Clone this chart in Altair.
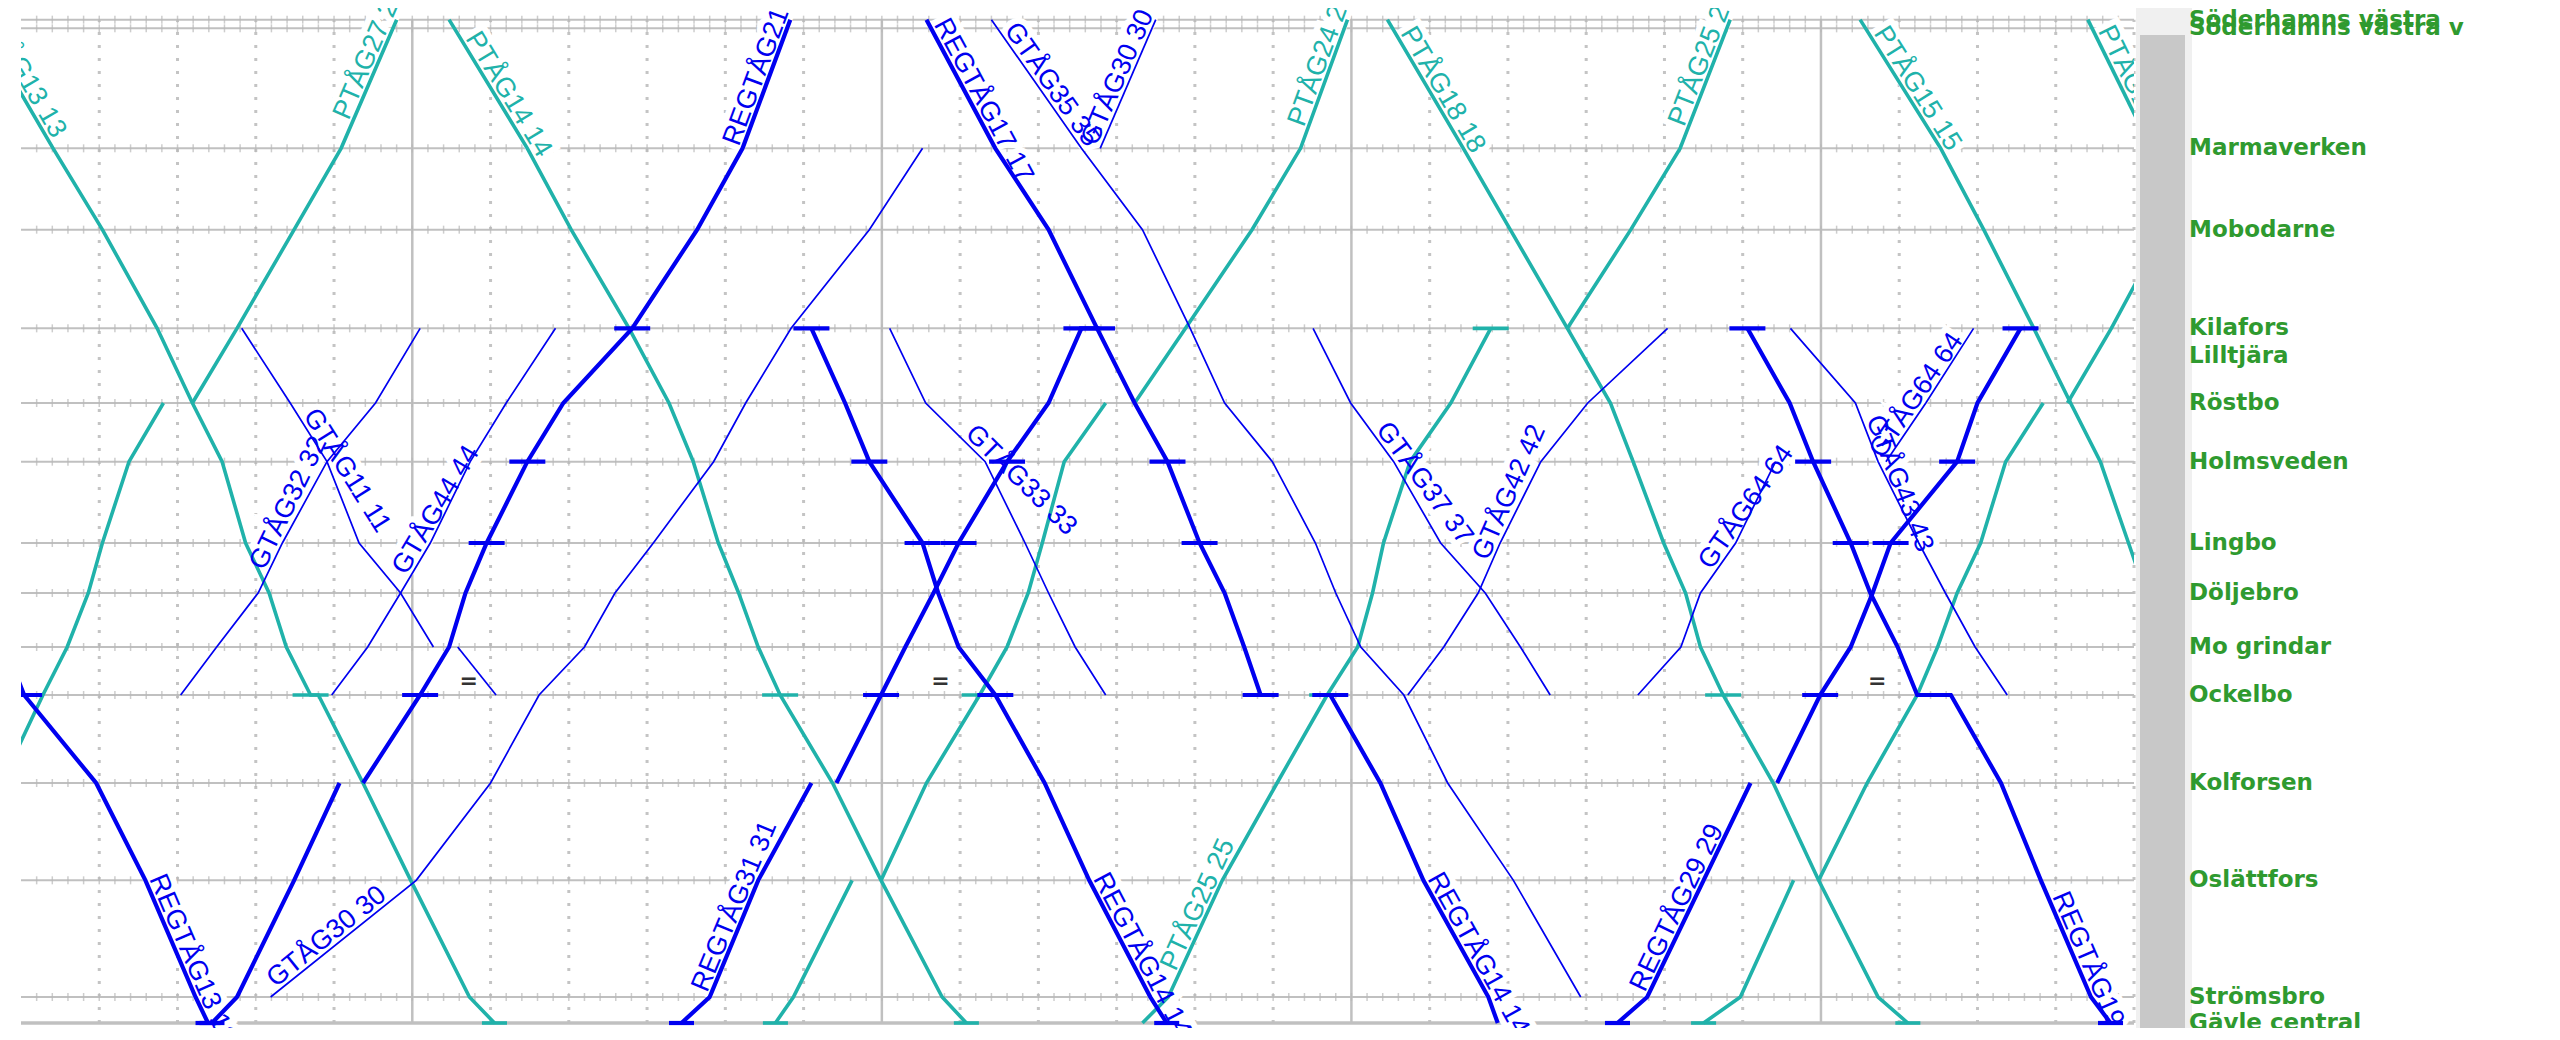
import math
import altair as alt
import pandas as pd

# ---------------- data ----------------
station_names = ["Söderhamns västra", "Söderhamns västra v", "Marmaverken", "Mobodarne", "Kilafors",
                 "Lilltjära", "Röstbo", "Holmsveden", "Lingbo", "Döljebro", "Mo grindar", "Ockelbo",
                 "Kolforsen", "Oslättfors", "Strömsbro", "Gävle central"]
station_codes = ["Sö", "Sv", "Ma", "Mb", "Ki", "Lt", "Rö", "Ho", "Li", "Dö", "Mo", "Oc", "Ko", "Os", "St", "Gä"]
station_km = [75.25, 74.6, 65.6, 59.5, 52.1, 50.0, 46.5, 42.1, 36.0, 32.25, 28.2, 24.6, 18.0, 10.7, 1.95, 0.0]
label_only = ["Lt"]

# time in minutes (hour lines at 60,120,180,240)
hour_marks = [60, 120, 180, 240]
t_start, t_end = 10, 280

trains = [
    ("PTÅG13", "P", [[("Sö", 4.5), ("Ma", 14.1), ("Mb", 20.4), ("Ki", 27.4), ("Rö", 31.9), ("Ho", 35.7), ("Li", 38.7),
                      ("Dö", 41.7), ("Mo", 43.9), ("Oc", 47.0), ("Oc", 48.0), ("Ko", 53.7), ("Os", 59.8), ("St", 67.3), ("Gä", 70.5)]]),
    ("PTÅG27", "P", [[("Ko", 7.5), ("Oc", 12.8), ("Mo", 15.9), ("Dö", 18.6), ("Li", 20.4), ("Ho", 23.8), ("Rö", 28.2)],
                     [("Rö", 31.9), ("Ki", 37.6), ("Mb", 44.9), ("Ma", 50.9), ("Sö", 58.0)]]),
    ("PTÅG14", "P", [[("Sö", 64.7), ("Ma", 74.7), ("Mb", 80.3), ("Ki", 87.7), ("Rö", 92.8), ("Ho", 95.9), ("Li", 99.1),
                      ("Dö", 101.7), ("Mo", 104.2), ("Oc", 107.0), ("Ko", 113.7), ("Os", 119.9), ("St", 127.7), ("Gä", 130.8)]]),
    ("PTÅG24", "P", [[("Gä", 106.4), ("St", 108.7), ("Os", 116.2)],
                     [("Os", 119.9), ("Ko", 125.7), ("Oc", 132.5), ("Mo", 136.0), ("Dö", 138.7), ("Li", 140.5), ("Ho", 143.3), ("Rö", 148.6)],
                     [("Rö", 152.3), ("Ki", 158.8), ("Mb", 167.3), ("Ma", 173.5), ("Sö", 179.5)]]),
    ("PTÅG25", "P", [[("Gä", 153.3), ("St", 156.6), ("Os", 163.5), ("Ko", 170.5), ("Oc", 176.9), ("Mo", 180.8), ("Dö", 182.7),
                      ("Li", 184.1), ("Ho", 187.5), ("Rö", 192.7), ("Ki", 197.8)],
                     [("Ki", 207.6), ("Mb", 215.7), ("Ma", 222.0), ("Sö", 228.4)]]),
    ("PTÅG18", "P", [[("Sö", 184.6), ("Ma", 194.3), ("Mb", 200.3), ("Ki", 207.6), ("Rö", 213.1), ("Ho", 216.0), ("Li", 219.9),
                      ("Dö", 222.7), ("Mo", 224.6), ("Oc", 227.5), ("Ko", 233.9), ("Os", 239.7), ("St", 247.3), ("Gä", 251.1)]]),
    ("PTÅG26", "P", [[("Gä", 225.0), ("St", 229.7), ("Os", 236.5)],
                     [("Os", 239.7), ("Ko", 245.9), ("Oc", 252.3), ("Mo", 254.9), ("Dö", 257.4), ("Li", 260.4), ("Ho", 263.6), ("Rö", 268.4)],
                     [("Rö", 271.5), ("Ki", 277.1), ("Mb", 283.9)]]),
    ("PTÅG15", "P", [[("Sö", 245.0), ("Ma", 255.3), ("Mb", 260.8), ("Ki", 267.2), ("Rö", 271.9), ("Ho", 275.7), ("Li", 279.3), ("Dö", 281.5)]]),
    ("PTÅG16", "P", [[("Sö", 274.1), ("Ma", 282.2)]]),

    ("REGTÅG13", "R", [[("Mo", 8.0), ("Oc", 10.4), ("Ko", 19.6), ("Os", 25.9), ("St", 32.3), ("Gä", 33.9)]]),
    ("REGTÅG21", "R", [[("Gä", 34.4), ("St", 37.6), ("Os", 44.9), ("Ko", 50.7)],
                       [("Ko", 53.7), ("Oc", 61.0), ("Mo", 64.7), ("Dö", 66.8), ("Li", 69.5), ("Ho", 74.7), ("Rö", 79.3),
                        ("Ki", 88.1), ("Mb", 96.4), ("Ma", 102.2), ("Sö", 108.3)]]),
    ("REGTÅG31", "R", [[("Gä", 94.4), ("St", 98.0), ("Os", 104.2), ("Ko", 111.0)],
                       [("Ko", 114.2), ("Oc", 119.9), ("Mo", 123.0), ("Dö", 126.6), ("Li", 129.8), ("Ho", 136.0), ("Rö", 141.3), ("Ki", 145.5)]]),
    ("REGTÅG14a", "R", [[("Ki", 111.0), ("Rö", 115.3), ("Ho", 118.4), ("Li", 125.2), ("Dö", 127.2), ("Mo", 129.8), ("Oc", 134.5),
                         ("Ko", 140.8), ("Os", 146.5), ("St", 154.3), ("Gä", 156.4)]]),
    ("REGTÅG17", "R", [[("Sö", 125.7), ("Ma", 134.5), ("Mb", 141.3), ("Ki", 147.5), ("Rö", 152.3), ("Ho", 156.5), ("Li", 160.6),
                        ("Dö", 163.8), ("Mo", 166.3), ("Oc", 168.4)]]),
    ("REGTÅG14b", "R", [[("Oc", 177.3), ("Ko", 183.7), ("Os", 189.2), ("St", 197.5), ("Gä", 198.7)]]),
    ("REGTÅG29", "R", [[("Gä", 214.0), ("St", 217.8), ("Os", 225.0), ("Ko", 231.0)],
                       [("Ko", 234.4), ("Oc", 239.9), ("Mo", 243.8), ("Dö", 246.6), ("Li", 248.9), ("Ho", 257.4), ("Rö", 260.0), ("Ki", 265.5)]]),
    ("REGTÅG19", "R", [[("Ki", 230.6), ("Rö", 236.0), ("Ho", 239.0), ("Li", 243.8), ("Dö", 246.3), ("Mo", 249.8), ("Oc", 252.3),
                        ("Oc", 256.6), ("Ko", 263.0), ("Os", 268.1), ("St", 274.5), ("Gä", 277.0)]]),

    ("GTÅG11", "G", [[("Ki", 38.2), ("Rö", 44.4), ("Ho", 49.1), ("Li", 53.2), ("Dö", 58.5), ("Mo", 62.7)],
                     [("Mo", 65.8), ("Oc", 70.7)]]),
    ("GTÅG32", "G", [[("Oc", 30.4), ("Mo", 35.0), ("Dö", 40.3), ("Li", 43.4), ("Ho", 49.1), ("Rö", 55.3), ("Ki", 61.0)]]),
    ("GTÅG44", "G", [[("Oc", 49.7), ("Mo", 54.3), ("Dö", 58.5), ("Li", 62.3), ("Ho", 67.4), ("Rö", 72.0), ("Ki", 78.3)]]),
    ("GTÅG30", "G", [[("St", 41.9), ("Os", 60.5), ("Ko", 70.0), ("Oc", 76.2), ("Mo", 82.0), ("Dö", 85.9), ("Li", 90.8),
                      ("Ho", 98.5), ("Rö", 102.6), ("Ki", 108.4), ("Mb", 118.4), ("Ma", 125.2)],
                     [("Ma", 147.9), ("Sö", 155.0)]]),
    ("GTÅG35", "G", [[("Sö", 134.0), ("Ma", 145.5), ("Mb", 153.3), ("Ki", 159.4), ("Rö", 163.8), ("Ho", 169.9), ("Li", 175.4),
                      ("Dö", 178.0), ("Mo", 181.2), ("Oc", 186.7), ("Ko", 192.3), ("Os", 200.7), ("St", 209.3)]]),
    ("GTÅG33", "G", [[("Ki", 121.0), ("Rö", 125.6), ("Ho", 133.2), ("Li", 138.3), ("Dö", 141.3), ("Mo", 144.7), ("Oc", 148.6)]]),
    ("GTÅG37", "G", [[("Ki", 175.1), ("Rö", 179.9), ("Ho", 185.4), ("Li", 191.4), ("Dö", 197.1), ("Mo", 201.6), ("Oc", 205.4)]]),
    ("GTÅG42", "G", [[("Oc", 187.2), ("Mo", 191.8), ("Dö", 196.2), ("Li", 199.0), ("Ho", 204.2), ("Rö", 210.2), ("Ki", 220.4)]]),
    ("GTÅG64", "G", [[("Oc", 216.6), ("Mo", 222.1), ("Dö", 224.6), ("Li", 229.1), ("Ho", 234.2)],
                     [("Ho", 248.3), ("Rö", 253.4), ("Ki", 259.5)]]),
    ("GTÅG43", "G", [[("Ki", 236.1), ("Rö", 244.4), ("Ho", 247.3), ("Li", 252.5), ("Dö", 255.9), ("Mo", 259.7), ("Oc", 263.8)]]),
]

stops = {
    "PTÅG13": ["Oc", "Gä"], "PTÅG14": ["Oc", "Gä"], "PTÅG24": ["Oc", "Gä"], "PTÅG25": ["Oc", "Ki"],
    "PTÅG18": ["Oc", "Gä"], "PTÅG26": ["Gä"],
    "REGTÅG13": ["Oc", "Gä"], "REGTÅG21": ["Oc", "Li", "Ho", "Ki", "Gä"], "REGTÅG31": ["Oc", "Li", "Ho", "Ki", "Gä"],
    "REGTÅG14a": ["Ki", "Ho", "Li", "Oc", "Gä"], "REGTÅG17": ["Ki", "Ho", "Li", "Oc"], "REGTÅG14b": ["Oc"],
    "REGTÅG29": ["Oc", "Li", "Ho", "Ki", "Gä"], "REGTÅG19": ["Ki", "Ho", "Li", "Gä"],
}

# label text, train, segment, point index, fraction toward next point
train_labels = [
    ("PTÅG13 13", "PTÅG13", 0, 0, 0.0), ("PTÅG27 27", "PTÅG27", 1, 3, 0.2), ("PTÅG14 14", "PTÅG14", 0, 0, 0.16),
    ("REGTÅG21 21", "REGTÅG21", 1, 9, 0.0), ("REGTÅG17 17", "REGTÅG17", 0, 0, 0.05), ("GTÅG35 35", "GTÅG35", 0, 0, 0.1),
    ("GTÅG30 30", "GTÅG30", 1, 0, 0.0), ("PTÅG24 24", "PTÅG24", 2, 3, 0.15), ("PTÅG18 18", "PTÅG18", 0, 0, 0.12),
    ("PTÅG25 25", "PTÅG25", 1, 2, 0.15), ("PTÅG15 15", "PTÅG15", 0, 0, 0.12), ("PTÅG16 16", "PTÅG16", 0, 0, 0.1),
    ("GTÅG32 32", "GTÅG32", 0, 2, 0.4), ("GTÅG11 11", "GTÅG11", 0, 1, 0.25), ("GTÅG44 44", "GTÅG44", 0, 2, 0.3),
    ("GTÅG30 30", "GTÅG30", 0, 0, 0.05), ("REGTÅG13 13", "REGTÅG13", 0, 3, 0.0), ("REGTÅG31 31", "REGTÅG31", 0, 1, 0.02),
    ("REGTÅG14 14", "REGTÅG14a", 0, 8, 0.0), ("PTÅG25 25", "PTÅG25", 0, 1, 0.2), ("GTÅG33 33", "GTÅG33", 0, 1, 0.6),
    ("GTÅG37 37", "GTÅG37", 0, 1, 0.5), ("GTÅG42 42", "GTÅG42", 0, 2, 0.6), ("GTÅG64 64", "GTÅG64", 0, 2, 0.4),
    ("GTÅG64 64", "GTÅG64", 1, 0, 0.0), ("GTÅG43 43", "GTÅG43", 0, 1, 0.3), ("REGTÅG29 29", "REGTÅG29", 0, 1, 0.02),
    ("REGTÅG19 19", "REGTÅG19", 0, 9, 0.15), ("REGTÅG14 14", "REGTÅG14b", 0, 2, 0.0),
]

# crossing marks "=" near Ockelbo
eq_times = [67.2, 127.5, 247.2]

# ---------------- layout ----------------
W, H = 2113, 1020
KM_BOT, KM_TOP = -0.375, 76.125
ppm = W / (t_end - t_start)
ppk = H / (KM_TOP - KM_BOT)

km_of = dict(zip(station_codes, station_km))

TEAL = "#20b2aa"
BLUE = "#0000f0"
GRID = "#c0c0c0"
GREEN = "#2f9a2f"
LABEL_FONT = "Liberation Sans Narrow, Arial Narrow, Liberation Sans, Arial"

xs = alt.Scale(domain=[t_start, t_end], nice=False, zero=False)
ys = alt.Scale(domain=[KM_BOT, KM_TOP], nice=False, zero=False)
X = lambda f: alt.X(f, scale=xs, axis=None)
Y = lambda f: alt.Y(f, scale=ys, axis=None)

# line rows
rows = []
for name, kind, segs in trains:
    for k, seg in enumerate(segs):
        for o, (code, t) in enumerate(seg):
            rows.append(dict(train=name, kind=kind, seg=f"{name}-{k}", o=o, t=t, km=km_of[code]))
lines = pd.DataFrame(rows)

# stop bars (centered on the first passage at the station)
kind_of = {n: k for n, k, _ in trains}
segs_of = {n: s for n, _, s in trains}
bar_rows = []
for name, codes in stops.items():
    pts = [p for s in segs_of[name] for p in s]
    for c in codes:
        ts = [t for cc, t in pts if cc == c]
        if not ts:
            continue
        half = 1.6 if c == "Gä" else 2.3
        bar_rows.append(dict(kind=kind_of[name], x0=ts[0] - half, x1=ts[0] + half, km=km_of[c]))
bars = pd.DataFrame(bar_rows)

# train labels
lab_rows = []
for text, name, k, i, f in train_labels:
    seg = segs_of[name][k]
    (c1, t1), (c2, t2) = seg[i], seg[i + 1]
    k1, k2 = km_of[c1], km_of[c2]
    t = t1 + f * (t2 - t1)
    km = k1 + f * (k2 - k1)
    ang = math.degrees(math.atan2(-(k2 - k1) * ppk, (t2 - t1) * ppm)) % 360
    lab_rows.append(dict(text=text, kind=kind_of[name], t=t, km=km, ang=ang))
labs = pd.DataFrame(lab_rows)

# grid
line_codes = [c for c in station_codes if c not in label_only and c != "Gä"]
hlines = pd.DataFrame(dict(km=[km_of[c] for c in line_codes], x0=t_start, x1=t_end))
ticks = pd.DataFrame([dict(t=float(t), km=km_of[c]) for c in line_codes for t in range(t_start + 2, t_end, 2)])
minor = [m for m in range(20, t_end + 1, 10) if m not in hour_marks]
vdots = pd.DataFrame(dict(t=minor, y0=km_of["Gä"], y1=km_of["Sö"]))
vhours = pd.DataFrame(dict(t=hour_marks, y0=km_of["Gä"], y1=km_of["Sö"]))
bottom = pd.DataFrame(dict(km=[km_of["Gä"]], x0=[t_start], x1=[t_end]))
eqs = pd.DataFrame(dict(t=eq_times, km=km_of["Oc"], s="="))
st_labels = pd.DataFrame(dict(name=station_names, km=station_km))
dummy = pd.DataFrame(dict(a=[0]))

LABEL_SIZE = 27
text_enc = dict(x=X("t:Q"), y=Y("km:Q"), text="text:N", angle=alt.Angle("ang:Q", scale=None))

layers = [
    alt.Chart(vdots).mark_rule(color="#c4c4c4", strokeWidth=3, strokeDash=[3, 10]).encode(x=X("t:Q"), y=Y("y0:Q"), y2="y1:Q"),
    alt.Chart(vhours).mark_rule(color=GRID, strokeWidth=2.5).encode(x=X("t:Q"), y=Y("y0:Q"), y2="y1:Q"),
    alt.Chart(hlines).mark_rule(color=GRID, strokeWidth=2).encode(x=X("x0:Q"), x2="x1:Q", y=Y("km:Q")),
    alt.Chart(ticks).mark_tick(color="#b8b8b8", orient="vertical", size=8, thickness=1.5).encode(x=X("t:Q"), y=Y("km:Q")),
    alt.Chart(bottom).mark_rule(color=GRID, strokeWidth=3.5).encode(x=X("x0:Q"), x2="x1:Q", y=Y("km:Q")),
    # white boxes behind the train labels hide the grid there
    alt.Chart(labs).mark_text(color="white", stroke="white", strokeWidth=12, align="left", baseline="alphabetic",
                              dy=-4, fontSize=LABEL_SIZE, font=LABEL_FONT, clip=True).encode(**text_enc),
]

style = {"P": (TEAL, 3.6), "G": (BLUE, 1.7), "R": (BLUE, 4.2)}
for kind in ["P", "G", "R"]:
    col, w = style[kind]
    layers.append(
        alt.Chart(lines[lines.kind == kind]).mark_line(color=col, strokeWidth=w, clip=True)
        .encode(x=X("t:Q"), y=Y("km:Q"), detail="seg:N", order="o:Q")
    )
for kind in ["P", "R"]:
    col, w = style[kind]
    layers.append(
        alt.Chart(bars[bars.kind == kind]).mark_rule(color=col, strokeWidth=w, clip=True)
        .encode(x=X("x0:Q"), x2="x1:Q", y=Y("km:Q"))
    )
for kind in ["P", "G", "R"]:
    col, _ = style[kind]
    layers.append(
        alt.Chart(labs[labs.kind == kind]).mark_text(
            color=col, align="left", baseline="alphabetic", dy=-4, fontSize=LABEL_SIZE,
            font=LABEL_FONT, clip=True)
        .encode(**text_enc)
    )
layers += [
    alt.Chart(eqs).mark_text(color="#333333", fontSize=22, fontWeight="bold", dy=-14, font="DejaVu Sans")
    .encode(x=X("t:Q"), y=Y("km:Q"), text="s:N"),
    alt.Chart(dummy).mark_rect(color="#f0f0f0").encode(x=alt.value(2115), x2=alt.value(2171), y=alt.value(0), y2=alt.value(H)),
    alt.Chart(dummy).mark_rect(color="#c8c8c8").encode(x=alt.value(2119), x2=alt.value(2164), y=alt.value(27), y2=alt.value(H)),
    alt.Chart(st_labels).mark_text(color=GREEN, align="left", baseline="middle", fontSize=23, fontWeight="bold",
                                   font="DejaVu Sans")
    .encode(x=alt.value(2168), y=Y("km:Q"), text="name:N"),
]

chart = alt.layer(*layers).properties(
    width=W, height=H,
    padding={"left": 13, "top": 0, "right": 418, "bottom": 0},
    autosize=alt.AutoSizeParams(type="none"),
    background="white",
).configure_view(stroke=None)

chart.save("out.html", embed_options={"renderer": "svg", "actions": False})
